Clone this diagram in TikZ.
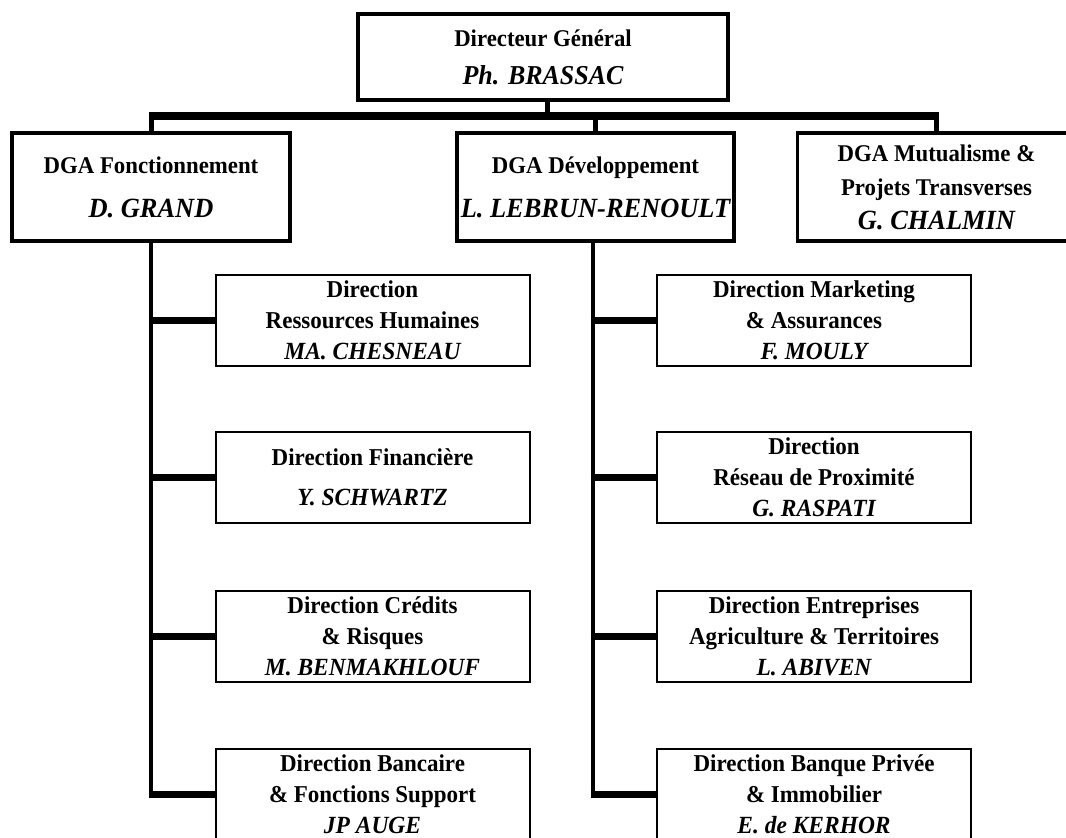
\documentclass[tikz,border=0pt]{standalone}
\usepackage{fontspec}
\setmainfont{Liberation Serif}[FakeStretch=0.95]
\newcommand{\topname}[1]{{\fontsize{13.65}{19}\selectfont\itshape #1}}
\newcommand{\dganame}[1]{{\fontsize{13.9}{22}\selectfont\itshape #1}}
\newcommand{\subname}[1]{{\fontsize{12.35}{15.5}\selectfont\itshape #1}}
\tikzset{
  topbox/.style={draw, line width=2.25pt, fill=white, inner sep=0pt, minimum width=185pt, minimum height=43pt, align=center, font=\fontsize{12}{19}\selectfont\bfseries},
  dgabox/.style={draw, line width=1.75pt, fill=white, inner sep=0pt, minimum width=139pt, minimum height=54pt, align=center, font=\fontsize{12}{22}\selectfont\bfseries},
  subbox/.style={draw, line width=1pt, fill=white, inner sep=0pt, minimum width=157pt, minimum height=45.5pt, align=center, font=\fontsize{12.1}{15.5}\selectfont\bfseries},
  stemline/.style={line width=2.5pt},
  busline/.style={line width=4pt, shorten <=-1.25pt, shorten >=-1.25pt},
  colline/.style={line width=2.25pt, shorten >=-1.75pt},
  branchline/.style={line width=3.5pt}
}
\begin{document}
\begin{tikzpicture}[x=0.5pt, y=-0.5pt]
\useasboundingbox (0,0) rectangle (1066,837);
\clip (0,0) rectangle (1066,837);
\fill[white] (0,0) rectangle (1066,837);

% top
\node[topbox] (dg) at (543,57) {Directeur Général\\\topname{Ph. BRASSAC}};

% DGA
\node[dgabox] (fon) at (151,187) {DGA Fonctionnement\\\dganame{D. GRAND}};
\node[dgabox, minimum width=138.5pt] (dev) at (595.5,187) {DGA Développement\\\dganame{L. LEBRUN-RENOULT}};
\node[dgabox, font=\fontsize{12}{17}\selectfont\bfseries] (mut) at (936.5,187) {DGA Mutualisme \&\\Projets Transverses\\\dganame{G. CHALMIN}};

% left column
\node[subbox] (rh) at (372.5,320) {Direction\\Ressources Humaines\\\subname{MA. CHESNEAU}};
\node[subbox, font=\fontsize{12.1}{20}\selectfont\bfseries] (fin) at (372.5,477.5) {Direction Financière\\\subname{Y. SCHWARTZ}};
\node[subbox] (cre) at (372.5,636) {Direction Crédits\\\& Risques\\\subname{M. BENMAKHLOUF}};
\node[subbox] (ban) at (372.5,794.5) {Direction Bancaire\\\& Fonctions Support\\\subname{JP AUGE}};

% right column
\node[subbox] (mkt) at (814,320) {Direction Marketing\\\& Assurances\\\subname{F. MOULY}};
\node[subbox] (res) at (814,477.5) {Direction\\Réseau de Proximité\\\subname{G. RASPATI}};
\node[subbox] (ent) at (814,636) {Direction Entreprises\\Agriculture \& Territoires\\\subname{L. ABIVEN}};
\node[subbox] (bpi) at (814,794.5) {Direction Banque Privée\\\& Immobilier\\\subname{E. de KERHOR}};

% bus
\coordinate (bus) at (0,116);
\draw[stemline] ([xshift=2pt]dg.south) -- ([xshift=2pt]dg.south |- bus);
\draw[stemline] (fon.north) -- (fon.north |- bus);
\draw[stemline] (dev.north) -- (dev.north |- bus);
\draw[stemline] (mut.north) -- (mut.north |- bus);
\draw[busline] (fon.north |- bus) -- (mut.north |- bus);

% left column connectors
\draw[colline] (fon.south) -- (fon.south |- ban.west);
\foreach \b in {rh,fin,cre,ban}{
  \draw[branchline] ([xshift=-1.125pt]fon.south |- \b.west) -- (\b.west);
}
% right column connectors
\draw[colline] ([xshift=-1.25pt]dev.south) -- ([xshift=-1.25pt]dev.south |- bpi.west);
\foreach \b in {mkt,res,ent,bpi}{
  \draw[branchline] ([xshift=-2.375pt]dev.south |- \b.west) -- (\b.west);
}
\end{tikzpicture}
\end{document}
